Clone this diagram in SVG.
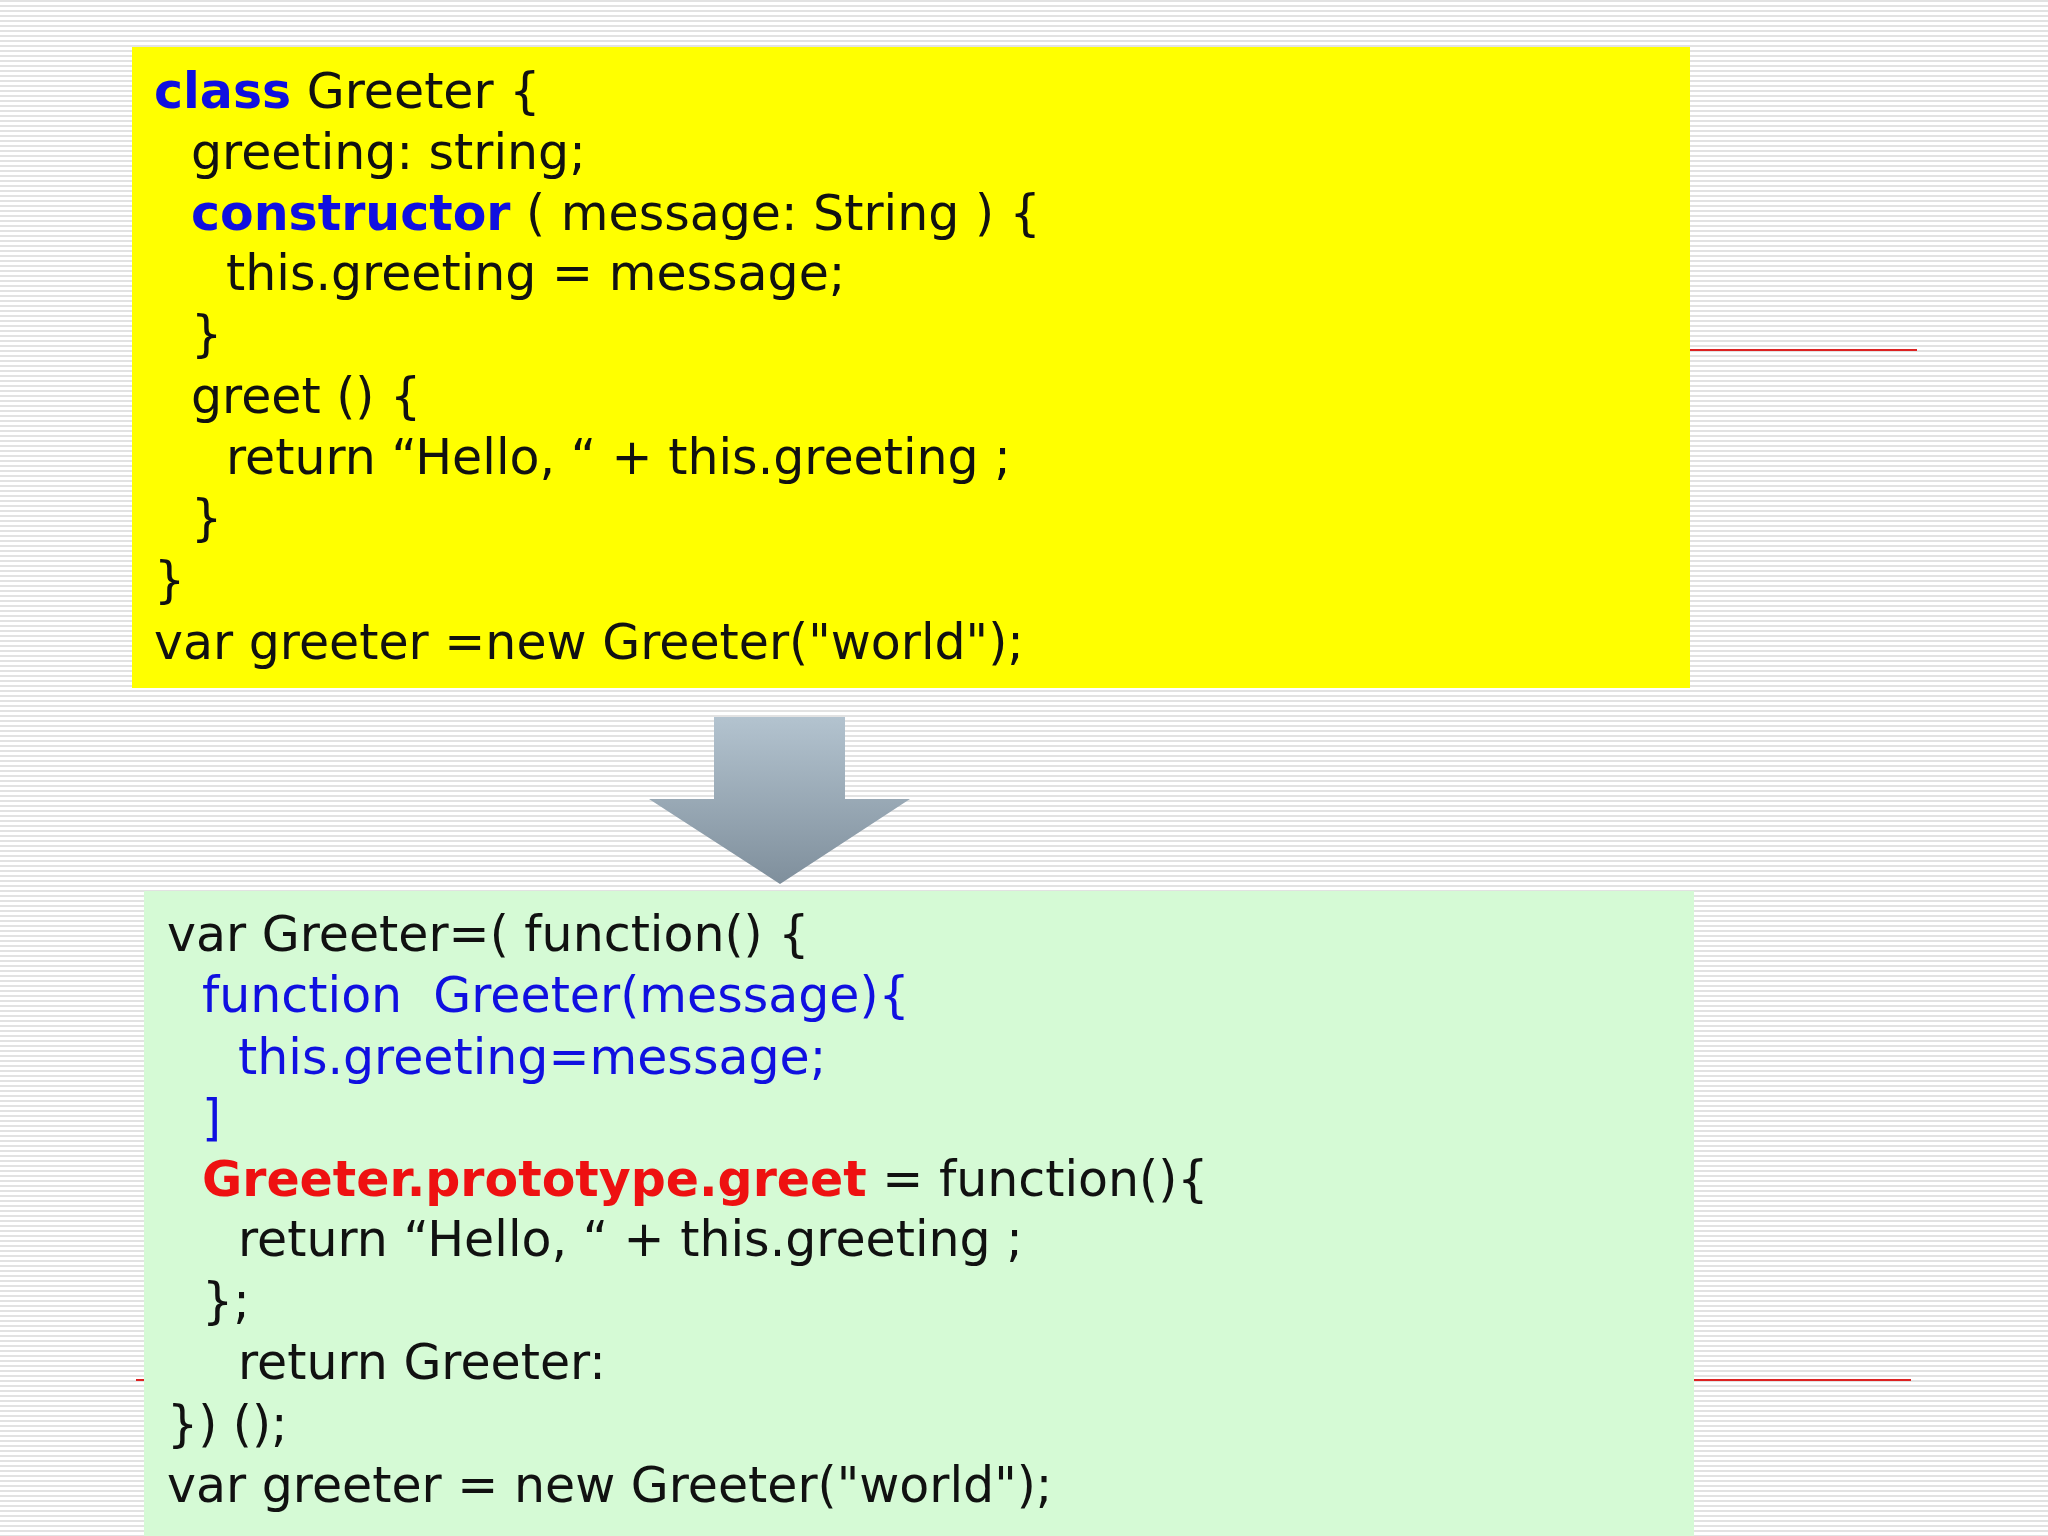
<svg xmlns="http://www.w3.org/2000/svg" width="2048" height="1536" viewBox="0 0 2048 1536">
<defs>
<pattern id="stripes" width="8" height="5" patternUnits="userSpaceOnUse"><rect width="8" height="5" fill="#ffffff"/><rect y="0" width="8" height="2" fill="#e2e2e2"/></pattern>
<linearGradient id="ag" x1="0" y1="0" x2="0" y2="1"><stop offset="0" stop-color="#b3c3cf"/><stop offset="1" stop-color="#7f8f9c"/></linearGradient>
<style>
text{font-family:"DejaVu Sans","Verdana",sans-serif;font-size:49px;fill:#111}
.kw{fill:#1010e0;font-weight:bold}
.bl{fill:#1010e0}
.rd{fill:#ee1111;font-weight:bold}
</style>
</defs>
<rect width="2048" height="1536" fill="url(#stripes)"/>
<line x1="1690" y1="350" x2="1917" y2="350" stroke="#dd2222" stroke-width="2"/>
<line x1="136" y1="1380" x2="1911" y2="1380" stroke="#dd2222" stroke-width="2"/>
<g id="ts-code">
<rect x="132" y="47" width="1558" height="641" fill="#ffff00"/>
<text x="154" y="108"><tspan class="kw">class</tspan> Greeter {</text>
<text x="191" y="169">greeting: string;</text>
<text x="191" y="230"><tspan class="kw">constructor</tspan> ( message: String ) {</text>
<text x="226" y="290">this.greeting = message;</text>
<text x="191" y="351">}</text>
<text x="191" y="413">greet () {</text>
<text x="226" y="474">return “Hello, “ + this.greeting ;</text>
<text x="191" y="535">}</text>
<text x="154" y="597">}</text>
<text x="154" y="659">var greeter =new Greeter("world");</text>
</g>
<g id="arrow">
<polygon points="714,717 845,717 845,799 910,799 780,884 649,799 714,799" fill="url(#ag)"/>
</g>
<g id="js-code">
<rect x="144" y="891" width="1550" height="645" fill="#d5fad5"/>
<text x="167" y="951">var Greeter=( function() {</text>
<text x="202" y="1012" class="bl" xml:space="preserve">function  Greeter(message){</text>
<text x="238" y="1074" class="bl">this.greeting=message;</text>
<text x="202" y="1135" class="bl">]</text>
<text x="202" y="1196"><tspan class="rd">Greeter.prototype.greet</tspan> = function(){</text>
<text x="238" y="1256">return “Hello, “ + this.greeting ;</text>
<text x="202" y="1318">};</text>
<text x="238" y="1379">return Greeter:</text>
<text x="167" y="1441">}) ();</text>
<text x="167" y="1502">var greeter = new Greeter("world");</text>
</g>
</svg>
